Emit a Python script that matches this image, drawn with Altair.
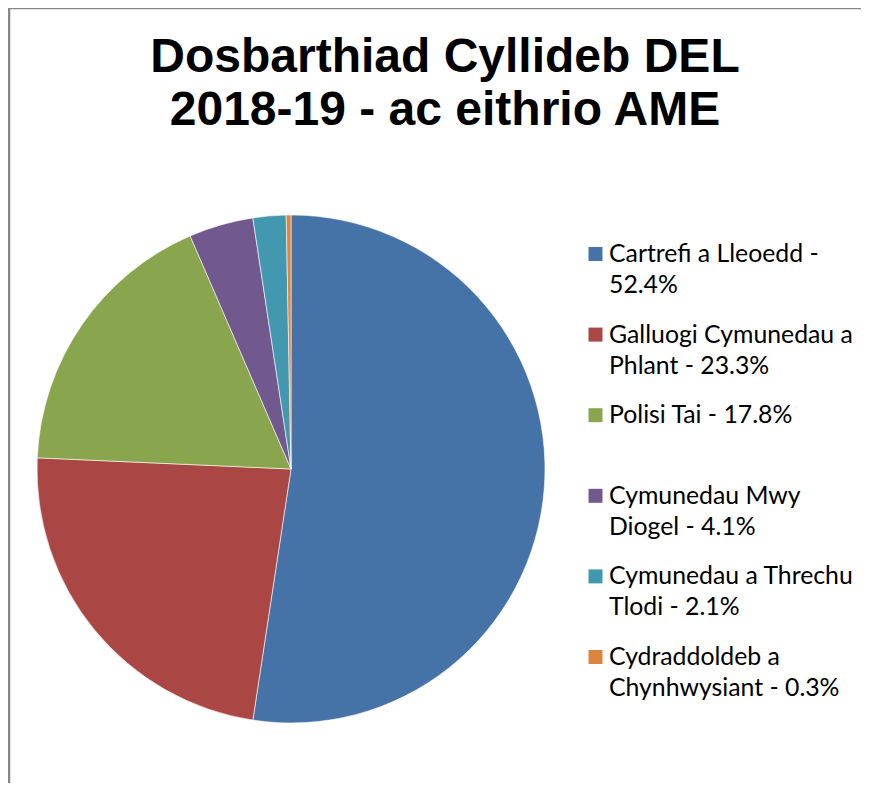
import altair as alt
import pandas as pd

categories = [
    "Cartrefi a Lleoedd",
    "Galluogi Cymunedau a Phlant",
    "Polisi Tai",
    "Cymunedau Mwy Diogel",
    "Cymunedau a Threchu Tlodi",
    "Cydraddoldeb a Chynhwysiant",
]
shares = [52.4, 23.3, 17.8, 4.1, 2.1, 0.3]
legend_labels = [
    "Cartrefi a Lleoedd -\n52.4%",
    "Galluogi Cymunedau a\nPhlant - 23.3%",
    "Polisi Tai - 17.8%",
    "Cymunedau Mwy\nDiogel - 4.1%",
    "Cymunedau a Threchu\nTlodi - 2.1%",
    "Cydraddoldeb a\nChynhwysiant - 0.3%",
]
colors = ["#4572A7", "#AA4643", "#89A54E", "#71588F", "#4198AF", "#DB843D"]
title_text = "Dosbarthiad Cyllideb DEL\n2018-19 - ac eithrio AME"

W, H = 853, 775

df = pd.DataFrame({
    "cat": categories,
    "share": shares,
    "label": legend_labels,
    "idx": list(range(len(categories))),
})

color = alt.Color("cat:N", scale=alt.Scale(domain=categories, range=colors), legend=None)
ypos = alt.Y("cat:N", sort=categories,
             scale=alt.Scale(type="point", range=[254, 657], padding=0), axis=None)

base = alt.Chart(df)

pie = base.mark_arc(radius=254, stroke="white", strokeWidth=0.6).encode(
    theta=alt.Theta("share:Q", stack=True),
    color=color,
    order=alt.Order("idx:Q"),
    x=alt.value(283),
    y=alt.value(461),
)

squares = base.mark_square(size=196, yOffset=-8, opacity=1).encode(
    x=alt.value(587.5),
    y=ypos,
    color=color,
)

texts = base.mark_text(
    align="left", baseline="alphabetic", font="Lato", fontSize=24.8,
    lineBreak="\n", lineHeight=31, color="black",
).encode(
    x=alt.value(601),
    y=ypos,
    text="label:N",
)

title = alt.Chart(pd.DataFrame({"t": [title_text]})).mark_text(
    font="Liberation Sans", fontWeight="bold", fontSize=48,
    lineBreak="\n", lineHeight=53, align="center", baseline="alphabetic", color="black",
).encode(x=alt.value(437), y=alt.value(64), text="t:N")

frame_df = pd.DataFrame({"a": [0]})
top_line = alt.Chart(frame_df).mark_rule(color="#878787", strokeWidth=2.5).encode(
    y=alt.value(0), x=alt.value(0), x2=alt.value(W)
)
left_line = alt.Chart(frame_df).mark_rule(color="#878787", strokeWidth=2.5).encode(
    x=alt.value(1), y=alt.value(0), y2=alt.value(H)
)

chart = alt.layer(top_line, left_line, pie, squares, texts, title).properties(
    width=W, height=H,
    autosize=alt.AutoSizeParams(type="none"),
    padding=0,
).configure_view(stroke=None)

chart.save("out.html", embed_options={"renderer": "svg", "actions": False})
